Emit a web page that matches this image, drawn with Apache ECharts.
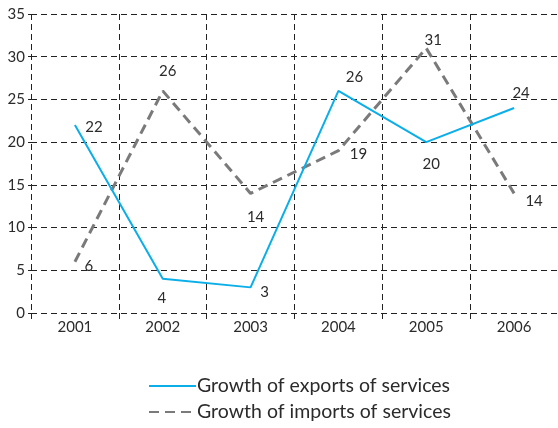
<!DOCTYPE html>
<html>
<head>
<meta charset="utf-8">
<style>
  html, body { margin: 0; padding: 0; background: #fff; }
  #chart { width: 558px; height: 428px; }
</style>
<script src="https://cdn.jsdelivr.net/npm/echarts@6/dist/echarts.min.js"></script>
</head>
<body>
<div id="chart"></div>
<script>
// Growth of trade in services, per cent
const years = ['2001', '2002', '2003', '2004', '2005', '2006'];
const exportsGrowth = [22, 4, 3, 26, 20, 24];
const importsGrowth = [6, 26, 14, 19, 31, 14];
const yTicks = { min: 0, max: 35, step: 5 };

// where each value label sits relative to its point (px)
const exportLabelShift = [[19, 2], [-1, 19], [14, 5], [16, -14], [5, 22], [7, -15]];
const importLabelShift = [[14, 4], [5, -20], [5, 24], [20, 3], [7, -8], [20, 8]];

const FONT = 'Lato';
const TEXT = '#2b2b2b';
const CLEAR = 'rgba(0,0,0,0)';

function withLabels(values, shifts) {
  return values.map((v, i) => ({
    value: v,
    label: { offset: shifts[i] }
  }));
}

function legendRow(name, top) {
  return {
    left: 148,
    top: top,
    padding: 0,
    itemWidth: 47,
    itemHeight: 14,
    textStyle: { color: TEXT, fontSize: 19.5, fontFamily: FONT, padding: [0, 0, 0, -4] },
    data: [name]
  };
}

const chart = echarts.init(document.getElementById('chart'), null, { renderer: 'canvas' });

chart.setOption({
  animation: false,
  backgroundColor: '#ffffff',
  textStyle: { fontFamily: FONT },
  grid: { left: 31, right: -3, top: 14, bottom: 115, containLabel: false },
  xAxis: {
    type: 'category',
    data: years,
    boundaryGap: true,
    axisLine: { show: false },
    axisTick: {
      show: true, length: 8, inside: false,
      lineStyle: { color: '#222', type: [6, 4], width: 1 }
    },
    axisLabel: { color: TEXT, fontSize: 15, margin: 7, fontFamily: FONT },
    splitLine: {
      show: true,
      lineStyle: { color: '#222', type: [6, 4], width: 1 }
    }
  },
  yAxis: {
    type: 'value',
    min: yTicks.min,
    max: yTicks.max,
    interval: yTicks.step,
    axisLine: { show: false },
    axisTick: { show: true, length: 3, lineStyle: { color: '#222', width: 1 } },
    axisLabel: { color: TEXT, fontSize: 15, margin: 6, fontFamily: FONT },
    splitLine: {
      show: true,
      lineStyle: { color: '#222', type: [6, 4], width: 1 }
    }
  },
  legend: [
    legendRow('Growth of exports of services', 376),
    legendRow('Growth of imports of services', 402)
  ],
  series: [
    {
      name: 'Growth of exports of services',
      type: 'line',
      data: withLabels(exportsGrowth, exportLabelShift),
      symbol: 'circle',
      symbolSize: 1,
      showSymbol: true,
      itemStyle: { color: CLEAR },
      lineStyle: { color: '#0aaee8', width: 2 },
      label: {
        show: true, position: 'inside',
        color: TEXT, fontSize: 15, fontFamily: FONT
      },
      z: 3
    },
    {
      name: 'Growth of imports of services',
      type: 'line',
      data: withLabels(importsGrowth, importLabelShift),
      symbol: 'circle',
      symbolSize: 1,
      showSymbol: true,
      itemStyle: { color: CLEAR },
      lineStyle: { color: '#7a7a7a', width: 3, type: [10, 6] },
      label: {
        show: true, position: 'inside',
        color: TEXT, fontSize: 15, fontFamily: FONT
      },
      z: 2
    }
  ]
});
</script>
</body>
</html>
